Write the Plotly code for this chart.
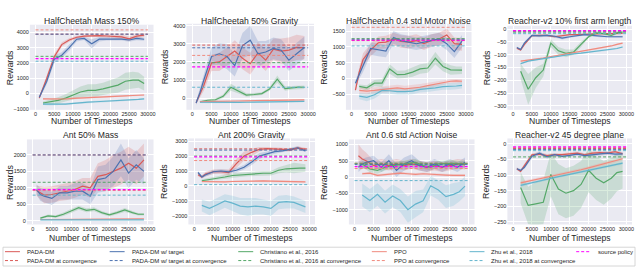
import plotly.graph_objects as go

W, H = 640, 269

# ---------------- data ----------------
x_pada = [1000, 2000, 3000, 5000, 7000, 9000, 11000, 13000, 15000, 17000, 19000, 21000, 23000, 25000, 27000, 29000]
x_base = [2000, 4000, 6000, 8000, 10000, 12000, 14000, 16000, 18000, 20000, 22000, 24000, 26000, 27500, 29000]
x_conv = [0, 30000]
x_ticks = [0, 5000, 10000, 15000, 20000, 25000, 30000]

titles = ["HalfCheetah Mass 150%", "HalfCheetah 50% Gravity", "HalfCheetah 0.4 std Motor Noise",
          "Reacher-v2 10% first arm length", "Ant 50% Mass", "Ant 200% Gravity",
          "Ant 0.6 std Action Noise", "Reacher-v2 45 degree plane"]

# Panel 1: HalfCheetah Mass 150%
p1_pada = [-300, 300, 1000, 2400, 3200, 3500, 3680, 3750, 3780, 3780, 3760, 3720, 3700, 3580, 3750, 3820]
p1_pada_sd = [100, 150, 200, 200, 150, 120, 100, 80, 80, 80, 100, 120, 150, 150, 120, 120]
p1_target = [-250, 250, 800, 2250, 2500, 3000, 3550, 3600, 3250, 3550, 3560, 3560, 3560, 3500, 3600, 3550]
p1_target_sd = [100, 150, 200, 250, 200, 200, 150, 100, 300, 150, 100, 100, 100, 120, 120, 100]
p1_chris = [-620, -550, -450, -300, -100, 100, 200, 200, 300, 450, 550, 800, 880, 870, 650]
p1_chris_sd = [100, 150, 200, 250, 300, 350, 400, 400, 400, 450, 500, 550, 550, 500, 450]
p1_ppo = [-350, -360, -380, -360, -320, -290, -260, -240, -220, -200, -180, -150, -130, -115, -100]
p1_ppo_sd = [60, 60, 70, 70, 70, 60, 60, 60, 60, 60, 50, 50, 50, 50, 50]
p1_zhu = [-700, -720, -700, -690, -640, -600, -570, -540, -520, -500, -470, -440, -420, -390, -350]
p1_zhu_sd = [60, 60, 60, 60, 60, 60, 60, 60, 60, 50, 50, 50, 50, 50, 50]

# Panel 2: HalfCheetah 50% Gravity
p2_pada = [-250, 250, 700, 1950, 2000, 2300, 2600, 2200, 1900, 2500, 2100, 2700, 2600, 2650, 2800, 2780]
p2_pada_sd = [100, 200, 300, 450, 500, 500, 600, 600, 600, 600, 600, 600, 700, 700, 700, 650]
p2_target = [-270, 300, 1000, 2300, 2450, 2300, 1800, 2900, 3200, 2450, 2550, 2750, 2650, 2100, 2450, 2800]
p2_target_sd = [100, 200, 300, 500, 600, 700, 600, 700, 800, 700, 600, 600, 600, 600, 600, 600]
p2_chris = [-200, -120, -90, 100, 600, 400, 170, 200, 250, 500, 1050, 530, 580, 610, 600]
p2_chris_sd = [60, 60, 80, 100, 200, 150, 100, 80, 80, 100, 200, 120, 100, 100, 100]
p2_ppo = [-200, -200, -190, -180, -170, -160, -150, -140, -130, -120, -110, -110, -100, -100, -100]
p2_ppo_sd = [40, 40, 40, 40, 40, 40, 40, 40, 40, 40, 40, 40, 40, 40, 40]
p2_zhu = [-230, -240, -230, -220, -230, -240, -230, -220, -210, -200, -200, -190, -180, -180, -180]
p2_zhu_sd = [40, 40, 40, 40, 40, 40, 40, 40, 40, 40, 40, 40, 40, 40, 40]

# Panel 3: HalfCheetah 0.4 std Motor Noise
p3_pada = [-370, 200, 600, 900, 1130, 1150, 1250, 1170, 1150, 1200, 1100, 1200, 1250, 1380, 1100, 1080]
p3_pada_sd = [80, 150, 200, 200, 200, 200, 200, 200, 200, 200, 200, 200, 200, 200, 200, 200]
p3_target = [-150, 150, 400, 950, 900, 870, 1300, 1200, 1150, 1100, 1150, 1200, 1250, 1100, 850, 1180]
p3_target_sd = [80, 150, 200, 200, 200, 200, 200, 200, 200, 200, 200, 200, 200, 200, 200, 200]
p3_chris = [-250, -300, -150, -150, 300, 120, 130, 200, 300, 330, 640, 380, 270, 260, 260]
p3_chris_sd = [60, 80, 100, 120, 150, 120, 120, 150, 150, 150, 200, 150, 150, 120, 120]
p3_ppo = [-380, -400, -380, -350, -330, -300, -330, -310, -280, -230, -180, -130, -90, -80, -90]
p3_ppo_sd = [100, 100, 100, 100, 100, 100, 100, 100, 100, 90, 80, 70, 60, 60, 60]
p3_zhu = [-560, -600, -520, -380, -390, -420, -420, -400, -350, -330, -300, -260, -260, -240, -220]
p3_zhu_sd = [100, 120, 120, 100, 100, 100, 100, 100, 100, 100, 100, 100, 100, 100, 100]

# Panel 4: Reacher-v2 10% first arm length
p4_pada = [-75, -82, -60, -26, -25, -25, -30, -25, -22, -22, -20, -20, -18, -18, -18, -17]
p4_pada_sd = [4, 4, 6, 4, 4, 4, 4, 4, 3, 3, 3, 3, 3, 3, 3, 3]
p4_target = [-72, -80, -55, -25, -27, -25, -28, -35, -30, -25, -22, -25, -28, -30, -30, -30]
p4_target_sd = [4, 4, 6, 5, 5, 5, 5, 6, 5, 4, 4, 4, 4, 4, 4, 4]
p4_chris = [-165, -235, -190, -160, -55, -85, -95, -90, -60, -30, -15, -18, -25, -15, -12]
p4_chris_sd = [30, 60, 40, 25, 15, 15, 15, 10, 10, 5, 5, 5, 5, 5, 5]
p4_ppo = [-125, -120, -117, -113, -108, -103, -98, -93, -88, -83, -78, -72, -66, -60, -55]
p4_ppo_sd = [3, 3, 3, 3, 3, 3, 3, 3, 3, 3, 3, 3, 3, 3, 3]
p4_zhu = [-135, -125, -120, -115, -110, -105, -100, -97, -94, -90, -87, -84, -80, -76, -70]
p4_zhu_sd = [3, 3, 3, 3, 3, 3, 3, 3, 3, 3, 3, 3, 3, 3, 3]

# Panel 5: Ant 50% Mass
p5_pada = [920, 850, 780, 800, 850, 880, 950, 1050, 1000, 1350, 1400, 1500, 1600, 1750, 1600, 1850]
p5_pada_sd = [150, 200, 250, 250, 250, 250, 250, 250, 300, 400, 450, 500, 500, 500, 500, 500]
p5_target = [950, 800, 750, 680, 850, 850, 900, 900, 750, 1250, 1300, 1500, 1850, 1450, 1700, 1500]
p5_target_sd = [150, 200, 200, 200, 200, 200, 250, 250, 250, 400, 400, 450, 500, 450, 450, 400]
p5_chris = [80, 150, 130, 200, 300, 400, 320, 350, 250, 180, 250, 330, 250, 200, 200]
p5_chris_sd = [30, 40, 40, 50, 60, 60, 60, 60, 50, 50, 50, 60, 50, 40, 40]
p5_ppo = [40, 40, 40, 50, 50, 50, 40, 40, 40, 40, 50, 50, 50, 60, 60]
p5_ppo_sd = [10, 10, 10, 10, 10, 10, 10, 10, 10, 10, 10, 10, 10, 10, 10]
p5_zhu = [30, 30, 30, 30, 30, 30, 30, 30, 30, 30, 30, 30, 30, 30, 30]
p5_zhu_sd = [10, 10, 10, 10, 10, 10, 10, 10, 10, 10, 10, 10, 10, 10, 10]

# Panel 6: Ant 200% Gravity
p6_pada = [750, 600, 800, 950, 950, 900, 1500, 2000, 2250, 2450, 2500, 2500, 2450, 2400, 2550, 2450]
p6_pada_sd = [100, 100, 150, 150, 150, 200, 300, 300, 250, 150, 100, 100, 100, 100, 100, 100]
p6_target = [900, 600, 750, 950, 1000, 950, 1050, 1250, 1600, 2000, 2150, 2300, 2350, 2450, 2550, 2350]
p6_target_sd = [100, 100, 120, 120, 120, 120, 150, 150, 200, 200, 150, 150, 100, 100, 100, 100]
p6_chris = [350, 450, 550, 600, 700, 750, 800, 850, 850, 850, 1050, 1150, 1200, 1200, 1200]
p6_chris_sd = [100, 100, 120, 120, 150, 150, 150, 150, 150, 150, 200, 250, 350, 300, 250]
p6_ppo = [300, 280, 270, 280, 300, 320, 340, 350, 340, 330, 320, 310, 300, 290, 280]
p6_ppo_sd = [60, 60, 60, 60, 60, 60, 60, 60, 60, 60, 60, 60, 60, 60, 60]
p6_zhu = [-1300, -1500, -1250, -1000, -1150, -1350, -1400, -1350, -1400, -1500, -1100, -1050, -1100, -1250, -1400]
p6_zhu_sd = [400, 450, 450, 450, 500, 550, 600, 550, 500, 500, 450, 450, 400, 400, 400]

# Panel 7: Ant 0.6 std Action Noise
p7_pada = [650, 550, 500, 350, 400, 350, 400, 350, 400, 350, 300, 350, 300, 350, 400, 380]
p7_pada_sd = [350, 300, 250, 150, 150, 150, 150, 150, 150, 150, 150, 150, 150, 150, 150, 150]
p7_target = [300, 400, 450, 500, 300, 500, 200, 400, 500, 350, 300, 400, 300, 400, 300, 450]
p7_target_sd = [150, 150, 150, 150, 150, 200, 200, 200, 200, 150, 150, 150, 150, 150, 150, 150]
p7_chris = [400, 250, 200, 300, 350, 380, 420, 450, 350, 300, 400, 420, 420, 400, 400]
p7_chris_sd = [100, 100, 100, 100, 100, 100, 100, 100, 100, 100, 100, 100, 100, 100, 100]
p7_ppo = [100, 120, 50, 80, 100, 120, 100, 80, 100, 80, 70, 60, 50, 50, 50]
p7_ppo_sd = [40, 40, 40, 40, 40, 40, 40, 40, 40, 40, 40, 40, 40, 40, 40]
p7_zhu = [-550, -720, -530, -770, -580, -720, -1000, -830, -730, -270, -400, -600, -530, -450, -280]
p7_zhu_sd = [350, 350, 350, 350, 350, 350, 400, 400, 350, 300, 300, 350, 350, 300, 300]

# Panel 8: Reacher-v2 45 degree plane
p8_pada = [-80, -88, -70, -35, -33, -38, -35, -35, -32, -30, -35, -30, -28, -30, -25, -32]
p8_pada_sd = [4, 4, 6, 5, 5, 5, 5, 5, 5, 5, 5, 5, 5, 5, 5, 5]
p8_target = [-80, -85, -75, -40, -30, -42, -35, -40, -37, -33, -38, -35, -32, -30, -33, -32]
p8_target_sd = [4, 4, 6, 6, 5, 5, 5, 5, 5, 5, 5, 5, 5, 5, 5, 5]
p8_chris = [-140, -197, -192, -187, -98, -145, -158, -150, -130, -85, -110, -125, -110, -92, -88]
p8_chris_sd = [50, 60, 70, 70, 70, 80, 80, 80, 75, 70, 70, 70, 65, 60, 55]
p8_ppo = [-125, -120, -115, -110, -104, -98, -93, -88, -83, -77, -71, -65, -59, -54, -48]
p8_ppo_sd = [5, 5, 5, 5, 5, 5, 5, 5, 5, 5, 5, 5, 5, 5, 5]
p8_zhu = [-133, -127, -122, -116, -110, -105, -100, -95, -90, -85, -80, -75, -70, -66, -62]
p8_zhu_sd = [4, 4, 4, 4, 4, 4, 4, 4, 4, 4, 4, 4, 4, 4, 4]

# converged levels (one per panel)
conv_pada = [3880, 2930, 1200, -8, 2000, 2480, 420, -15]
conv_target = [3880, 2780, 1240, -10, 2000, 2400, 380, -18]
conv_chris = [2430, 1960, 1260, -12, 1170, 2000, 420, -42]
conv_ppo = [4160, 2360, 1620, -7, 920, 1700, 260, -12]
conv_zhu = [2110, 600, 1030, -18, 780, 90, -110, -22]
conv_source = [2285, 1730, 1210, -6, 950, 1950, 320, -10]

y_ticks = [
    [-1000, 0, 1000, 2000, 3000, 4000],
    [0, 1000, 2000, 3000, 4000],
    [-500, 0, 500, 1000, 1500],
    [-300, -250, -200, -150, -100, -50, 0],
    [0, 500, 1000, 1500, 2000],
    [-2000, -1000, 0, 1000, 2000, 3000],
    [-1000, -500, 0, 500, 1000],
    [-250, -200, -150, -100, -50, 0],
]

series_names = ["PADA-DM", "PADA-DM w/ target", "Christiano et al., 2016", "PPO", "Zhu et al., 2018"]

panels = [
    [(p1_pada, p1_pada_sd), (p1_target, p1_target_sd), (p1_chris, p1_chris_sd), (p1_ppo, p1_ppo_sd), (p1_zhu, p1_zhu_sd)],
    [(p2_pada, p2_pada_sd), (p2_target, p2_target_sd), (p2_chris, p2_chris_sd), (p2_ppo, p2_ppo_sd), (p2_zhu, p2_zhu_sd)],
    [(p3_pada, p3_pada_sd), (p3_target, p3_target_sd), (p3_chris, p3_chris_sd), (p3_ppo, p3_ppo_sd), (p3_zhu, p3_zhu_sd)],
    [(p4_pada, p4_pada_sd), (p4_target, p4_target_sd), (p4_chris, p4_chris_sd), (p4_ppo, p4_ppo_sd), (p4_zhu, p4_zhu_sd)],
    [(p5_pada, p5_pada_sd), (p5_target, p5_target_sd), (p5_chris, p5_chris_sd), (p5_ppo, p5_ppo_sd), (p5_zhu, p5_zhu_sd)],
    [(p6_pada, p6_pada_sd), (p6_target, p6_target_sd), (p6_chris, p6_chris_sd), (p6_ppo, p6_ppo_sd), (p6_zhu, p6_zhu_sd)],
    [(p7_pada, p7_pada_sd), (p7_target, p7_target_sd), (p7_chris, p7_chris_sd), (p7_ppo, p7_ppo_sd), (p7_zhu, p7_zhu_sd)],
    [(p8_pada, p8_pada_sd), (p8_target, p8_target_sd), (p8_chris, p8_chris_sd), (p8_ppo, p8_ppo_sd), (p8_zhu, p8_zhu_sd)],
]
conv_levels = [conv_pada, conv_target, conv_chris, conv_ppo, conv_zhu]

# ---------------- style / layout ----------------
colors = ["#DA5A57", "#4C72B0", "#55A868", "#F08A7E", "#64B5CD"]
band_colors = ["rgba(218,90,87,0.22)", "rgba(76,114,176,0.22)", "rgba(85,168,104,0.22)",
               "rgba(240,138,126,0.22)", "rgba(100,181,205,0.22)"]
SOURCE = "#FF00FF"
FONT = "Liberation Sans, Arial, sans-serif"
TXT = "#262626"
DASH = "3px,2px"

# pixel boxes (left, right, top, bottom)
boxes = [(30, 154, 24, 110), (187, 315, 23, 110), (347, 473, 23, 110), (509, 634, 25, 110),
         (27, 154, 140, 226), (189, 316, 139, 226), (350, 476, 140, 226), (509, 634, 139, 226)]
y_ranges = [(-1065, 4498), (-645, 4110), (-994, 1733), (-315, 13),
            (-111, 2471), (-2575, 3178), (-1454, 1151), (-258, 17)]
ytitle_x = [10, 165, 325, 488]


def fx(p):
    return p / W


def fy(p):
    return 1 - p / H


fig = go.Figure()
layout = dict(width=W, height=H, margin=dict(l=0, r=0, t=0, b=0),
              paper_bgcolor="white", plot_bgcolor="#EAEAF2", showlegend=False,
              font=dict(family=FONT, color=TXT))
annotations = []
shapes = []

for i in range(8):
    k = "" if i == 0 else str(i + 1)
    xa, ya = "x" + k, "y" + k
    L, R, T, B = boxes[i]
    layout["xaxis" + k] = dict(domain=[fx(L), fx(R)], range=[-1500, 31500], anchor=ya,
                               tickvals=x_ticks, ticktext=[str(v) for v in x_ticks],
                               tickangle=0, tickfont=dict(size=5.5, color=TXT),
                               showgrid=True, gridcolor="white", gridwidth=0.8,
                               zeroline=False, showline=False, ticks="", fixedrange=True)
    layout["yaxis" + k] = dict(domain=[fy(B), fy(T)], range=list(y_ranges[i]), anchor=xa,
                               tickvals=y_ticks[i], tickfont=dict(size=5.5, color=TXT),
                               showgrid=True, gridcolor="white", gridwidth=0.8,
                               zeroline=False, showline=False, ticks="", fixedrange=True)

    # bands
    for s, (mean, sd) in enumerate(panels[i]):
        xs = x_pada if s < 2 else x_base
        up = [m + d for m, d in zip(mean, sd)]
        lo = [m - d for m, d in zip(mean, sd)]
        fig.add_trace(go.Scatter(x=xs + xs[::-1], y=up + lo[::-1], fill="toself",
                                 fillcolor=band_colors[s], line=dict(width=0),
                                 hoverinfo="skip", xaxis=xa, yaxis=ya))
    # mean lines
    for s, (mean, sd) in enumerate(panels[i]):
        xs = x_pada if s < 2 else x_base
        fig.add_trace(go.Scatter(x=xs, y=mean, mode="lines", name=series_names[s],
                                 line=dict(color=colors[s], width=1.2), xaxis=xa, yaxis=ya))
    # converged levels
    for s in range(5):
        v = conv_levels[s][i]
        fig.add_trace(go.Scatter(x=x_conv, y=[v, v], mode="lines",
                                 name=series_names[s] + " at convergence",
                                 line=dict(color=colors[s], width=1, dash=DASH), xaxis=xa, yaxis=ya))
    v = conv_source[i]
    fig.add_trace(go.Scatter(x=x_conv, y=[v, v], mode="lines", name="source policy",
                             line=dict(color=SOURCE, width=1.2, dash=DASH), xaxis=xa, yaxis=ya))

    # titles
    row2 = i >= 4
    cx = (L + R) / 2
    annotations.append(dict(text=titles[i], x=fx(cx), y=fy(135.5 if row2 else 20.5), xref="paper",
                            yref="paper", showarrow=False, xanchor="center", yanchor="middle",
                            font=dict(size=8.6, color=TXT)))
    annotations.append(dict(text="Number of Timesteps", x=fx(cx), y=fy(240 if row2 else 121),
                            xref="paper", yref="paper", showarrow=False, xanchor="center",
                            yanchor="middle", font=dict(size=8.6, color=TXT)))
    annotations.append(dict(text="Rewards", x=fx(ytitle_x[i % 4]), y=fy((T + B) / 2), xref="paper",
                            yref="paper", showarrow=False, textangle=-90, xanchor="center",
                            yanchor="middle", font=dict(size=8.8, color=TXT)))

# ---------------- manual legend ----------------
shapes.append(dict(type="rect", xref="paper", yref="paper", x0=fx(3), x1=fx(637), y0=fy(268), y1=fy(249),
                   line=dict(color="#CCCCCC", width=0.8), fillcolor="white", layer="above"))
col_x = [5, 110, 239, 373, 471, 578]
row_y = [253.5, 262.5]
entries = []
for s in range(5):
    entries.append((s, 0, series_names[s], colors[s], "solid"))
    entries.append((s, 1, series_names[s] + " at convergence", colors[s], DASH))
entries.append((5, 0, "source policy", SOURCE, DASH))
for c, r, label, col, dash in entries:
    x0 = col_x[c]
    shapes.append(dict(type="line", xref="paper", yref="paper", x0=fx(x0), x1=fx(x0 + 15),
                       y0=fy(row_y[r]), y1=fy(row_y[r]), line=dict(color=col, width=1, dash=dash),
                       layer="above"))
    annotations.append(dict(text=label, x=fx(x0 + 20), y=fy(row_y[r]), xref="paper", yref="paper",
                            showarrow=False, xanchor="left", yanchor="middle",
                            font=dict(size=6, color=TXT)))

layout["annotations"] = annotations
layout["shapes"] = shapes
fig.update_layout(**layout)
fig.write_html("out.html", config={"displayModeBar": False},
               post_script="document.body.style.margin='0';document.body.style.overflow='hidden';")
